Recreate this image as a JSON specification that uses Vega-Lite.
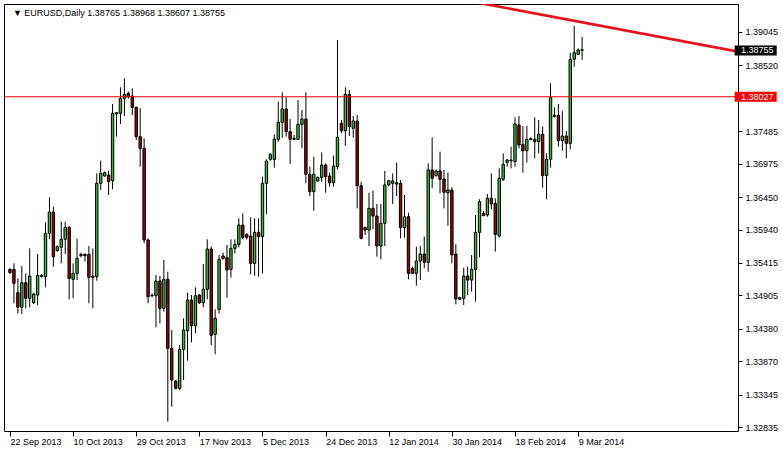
{
"$schema": "https://vega.github.io/schema/vega-lite/v6.json",
"width": 734,
"height": 427,
"autosize": {"type": "none"},
"padding": {"left": 4, "top": 4, "right": 45, "bottom": 20},
"background": "#ffffff",
"config": {
  "view": {"stroke": "#000000", "strokeWidth": 1},
  "font": "Liberation Sans",
  "axis": {"grid": false, "domain": false, "title": null, "labelFont": "Liberation Sans", "labelFontSize": 9, "labelColor": "#000000", "tickColor": "#000000", "labelOverlap": false, "labelFlush": false}
},
"datasets": {
  "candles": [
    {"date":"2013-09-22","open":1.35314,"high":1.35330,"low":1.35241,"close":1.35262},
    {"date":"2013-09-23","open":1.35314,"high":1.35408,"low":1.34780,"close":1.35094},
    {"date":"2013-09-24","open":1.34947,"high":1.35173,"low":1.34622,"close":1.34717},
    {"date":"2013-09-25","open":1.34717,"high":1.35366,"low":1.34612,"close":1.35104},
    {"date":"2013-09-26","open":1.35104,"high":1.35251,"low":1.34701,"close":1.34858},
    {"date":"2013-09-27","open":1.34858,"high":1.35644,"low":1.34717,"close":1.35209},
    {"date":"2013-09-29","open":1.34790,"high":1.34947,"low":1.34769,"close":1.34926},
    {"date":"2013-09-30","open":1.34911,"high":1.35555,"low":1.34753,"close":1.35220},
    {"date":"2013-10-01","open":1.35199,"high":1.35241,"low":1.35188,"close":1.35220},
    {"date":"2013-10-02","open":1.35199,"high":1.36053,"low":1.35031,"close":1.35880},
    {"date":"2013-10-03","open":1.35880,"high":1.36446,"low":1.35786,"close":1.36215},
    {"date":"2013-10-04","open":1.36215,"high":1.36299,"low":1.35356,"close":1.35513},
    {"date":"2013-10-06","open":1.35608,"high":1.35691,"low":1.35592,"close":1.35670},
    {"date":"2013-10-07","open":1.35660,"high":1.36063,"low":1.35408,"close":1.35786},
    {"date":"2013-10-08","open":1.35786,"high":1.36063,"low":1.35555,"close":1.35974},
    {"date":"2013-10-09","open":1.35974,"high":1.35995,"low":1.34843,"close":1.35173},
    {"date":"2013-10-10","open":1.35157,"high":1.35408,"low":1.34858,"close":1.35251},
    {"date":"2013-10-11","open":1.35251,"high":1.35796,"low":1.35146,"close":1.35487},
    {"date":"2013-10-13","open":1.35529,"high":1.35576,"low":1.35503,"close":1.35550},
    {"date":"2013-10-14","open":1.35550,"high":1.35566,"low":1.35435,"close":1.35529},
    {"date":"2013-10-15","open":1.35550,"high":1.35681,"low":1.34780,"close":1.35188},
    {"date":"2013-10-16","open":1.35209,"high":1.35644,"low":1.34701,"close":1.35188},
    {"date":"2013-10-17","open":1.35199,"high":1.36823,"low":1.35136,"close":1.36666},
    {"date":"2013-10-18","open":1.36666,"high":1.37022,"low":1.36561,"close":1.36823},
    {"date":"2013-10-20","open":1.36781,"high":1.36850,"low":1.36771,"close":1.36834},
    {"date":"2013-10-21","open":1.36797,"high":1.36865,"low":1.36483,"close":1.36692},
    {"date":"2013-10-22","open":1.36708,"high":1.37913,"low":1.36572,"close":1.37766},
    {"date":"2013-10-23","open":1.37756,"high":1.37787,"low":1.37400,"close":1.37777},
    {"date":"2013-10-24","open":1.37766,"high":1.38175,"low":1.37599,"close":1.38002},
    {"date":"2013-10-25","open":1.38002,"high":1.38317,"low":1.37724,"close":1.38065},
    {"date":"2013-10-27","open":1.38081,"high":1.38107,"low":1.37997,"close":1.38028},
    {"date":"2013-10-28","open":1.38039,"high":1.38159,"low":1.37740,"close":1.37861},
    {"date":"2013-10-29","open":1.37861,"high":1.37871,"low":1.37347,"close":1.37400},
    {"date":"2013-10-30","open":1.37400,"high":1.37845,"low":1.36928,"close":1.37216},
    {"date":"2013-10-31","open":1.37216,"high":1.37373,"low":1.35723,"close":1.35775},
    {"date":"2013-11-01","open":1.35775,"high":1.35801,"low":1.34780,"close":1.34884},
    {"date":"2013-11-03","open":1.34905,"high":1.34937,"low":1.34874,"close":1.34900},
    {"date":"2013-11-04","open":1.34900,"high":1.35225,"low":1.34402,"close":1.35131},
    {"date":"2013-11-05","open":1.35131,"high":1.35209,"low":1.34465,"close":1.34701},
    {"date":"2013-11-06","open":1.34701,"high":1.35461,"low":1.34649,"close":1.35157},
    {"date":"2013-11-07","open":1.35157,"high":1.35277,"low":1.32919,"close":1.34072},
    {"date":"2013-11-08","open":1.34072,"high":1.34360,"low":1.33155,"close":1.33574},
    {"date":"2013-11-10","open":1.33559,"high":1.33574,"low":1.33428,"close":1.33443},
    {"date":"2013-11-11","open":1.33443,"high":1.34124,"low":1.33417,"close":1.34056},
    {"date":"2013-11-12","open":1.34056,"high":1.34544,"low":1.33574,"close":1.34360},
    {"date":"2013-11-13","open":1.34350,"high":1.34947,"low":1.33878,"close":1.34832},
    {"date":"2013-11-14","open":1.34832,"high":1.34911,"low":1.34166,"close":1.34428},
    {"date":"2013-11-15","open":1.34428,"high":1.35031,"low":1.34308,"close":1.34900},
    {"date":"2013-11-17","open":1.34911,"high":1.34926,"low":1.34769,"close":1.34790},
    {"date":"2013-11-18","open":1.34790,"high":1.35398,"low":1.34717,"close":1.35000},
    {"date":"2013-11-19","open":1.35000,"high":1.35786,"low":1.34843,"close":1.35634},
    {"date":"2013-11-20","open":1.35634,"high":1.35670,"low":1.34124,"close":1.34277},
    {"date":"2013-11-21","open":1.34292,"high":1.34685,"low":1.33978,"close":1.34544},
    {"date":"2013-11-22","open":1.34685,"high":1.35539,"low":1.34622,"close":1.35471},
    {"date":"2013-11-24","open":1.35524,"high":1.35576,"low":1.35471,"close":1.35482},
    {"date":"2013-11-25","open":1.35497,"high":1.35697,"low":1.34869,"close":1.35304},
    {"date":"2013-11-26","open":1.35314,"high":1.35786,"low":1.35183,"close":1.35644},
    {"date":"2013-11-27","open":1.35644,"high":1.35786,"low":1.35566,"close":1.35707},
    {"date":"2013-11-28","open":1.35707,"high":1.36116,"low":1.35660,"close":1.36011},
    {"date":"2013-11-29","open":1.36011,"high":1.36194,"low":1.35786,"close":1.35817},
    {"date":"2013-12-01","open":1.35864,"high":1.35880,"low":1.35786,"close":1.35817},
    {"date":"2013-12-02","open":1.35838,"high":1.36132,"low":1.35236,"close":1.35408},
    {"date":"2013-12-03","open":1.35408,"high":1.36116,"low":1.35215,"close":1.35896},
    {"date":"2013-12-04","open":1.35896,"high":1.36116,"low":1.35199,"close":1.35828},
    {"date":"2013-12-05","open":1.35828,"high":1.36771,"low":1.35251,"close":1.36666},
    {"date":"2013-12-06","open":1.36666,"high":1.37043,"low":1.36179,"close":1.37017},
    {"date":"2013-12-08","open":1.37043,"high":1.37138,"low":1.37022,"close":1.37122},
    {"date":"2013-12-09","open":1.37043,"high":1.37436,"low":1.36912,"close":1.37358},
    {"date":"2013-12-10","open":1.37358,"high":1.37950,"low":1.37321,"close":1.37625},
    {"date":"2013-12-11","open":1.37625,"high":1.38097,"low":1.37384,"close":1.37835},
    {"date":"2013-12-12","open":1.37835,"high":1.38018,"low":1.37400,"close":1.37478},
    {"date":"2013-12-13","open":1.37478,"high":1.37677,"low":1.36970,"close":1.37358},
    {"date":"2013-12-15","open":1.37373,"high":1.37426,"low":1.37347,"close":1.37358},
    {"date":"2013-12-16","open":1.37358,"high":1.37976,"low":1.37347,"close":1.37593},
    {"date":"2013-12-17","open":1.37593,"high":1.37819,"low":1.37216,"close":1.37677},
    {"date":"2013-12-18","open":1.37677,"high":1.38097,"low":1.36666,"close":1.36808},
    {"date":"2013-12-19","open":1.36808,"high":1.36928,"low":1.36467,"close":1.36535},
    {"date":"2013-12-20","open":1.36535,"high":1.37085,"low":1.36236,"close":1.36808},
    {"date":"2013-12-22","open":1.36703,"high":1.36771,"low":1.36692,"close":1.36760},
    {"date":"2013-12-23","open":1.36760,"high":1.37153,"low":1.36692,"close":1.36954},
    {"date":"2013-12-24","open":1.36954,"high":1.36980,"low":1.36519,"close":1.36771},
    {"date":"2013-12-25","open":1.36781,"high":1.36834,"low":1.36614,"close":1.36676},
    {"date":"2013-12-26","open":1.36676,"high":1.37101,"low":1.36614,"close":1.36938},
    {"date":"2013-12-27","open":1.36928,"high":1.38919,"low":1.36886,"close":1.37389},
    {"date":"2013-12-29","open":1.37609,"high":1.37662,"low":1.37452,"close":1.37494},
    {"date":"2013-12-30","open":1.37494,"high":1.38175,"low":1.37258,"close":1.38065},
    {"date":"2013-12-31","open":1.38065,"high":1.38133,"low":1.37410,"close":1.37557},
    {"date":"2014-01-01","open":1.37531,"high":1.37724,"low":1.37384,"close":1.37646},
    {"date":"2014-01-02","open":1.37646,"high":1.37740,"low":1.36273,"close":1.36629},
    {"date":"2014-01-03","open":1.36629,"high":1.36692,"low":1.35786,"close":1.35801},
    {"date":"2014-01-05","open":1.35974,"high":1.35985,"low":1.35854,"close":1.35932},
    {"date":"2014-01-06","open":1.35932,"high":1.36519,"low":1.35681,"close":1.36273},
    {"date":"2014-01-07","open":1.36273,"high":1.36551,"low":1.35943,"close":1.36153},
    {"date":"2014-01-08","open":1.36153,"high":1.36341,"low":1.35513,"close":1.35681},
    {"date":"2014-01-09","open":1.35681,"high":1.36341,"low":1.35471,"close":1.36037},
    {"date":"2014-01-10","open":1.36037,"high":1.36860,"low":1.35681,"close":1.36640},
    {"date":"2014-01-12","open":1.36640,"high":1.36718,"low":1.36624,"close":1.36708},
    {"date":"2014-01-13","open":1.36666,"high":1.36823,"low":1.36341,"close":1.36703},
    {"date":"2014-01-14","open":1.36676,"high":1.36991,"low":1.36467,"close":1.36655},
    {"date":"2014-01-15","open":1.36666,"high":1.36718,"low":1.35801,"close":1.35969},
    {"date":"2014-01-16","open":1.35969,"high":1.36483,"low":1.35812,"close":1.36142},
    {"date":"2014-01-17","open":1.36142,"high":1.36205,"low":1.35157,"close":1.35251},
    {"date":"2014-01-19","open":1.35330,"high":1.35356,"low":1.35241,"close":1.35251},
    {"date":"2014-01-20","open":1.35251,"high":1.35670,"low":1.35057,"close":1.35445},
    {"date":"2014-01-21","open":1.35445,"high":1.35681,"low":1.35146,"close":1.35555},
    {"date":"2014-01-22","open":1.35555,"high":1.35828,"low":1.35330,"close":1.35424},
    {"date":"2014-01-23","open":1.35424,"high":1.36980,"low":1.35277,"close":1.36876},
    {"date":"2014-01-24","open":1.36876,"high":1.37389,"low":1.36588,"close":1.36745},
    {"date":"2014-01-26","open":1.36787,"high":1.36886,"low":1.36771,"close":1.36860},
    {"date":"2014-01-27","open":1.36860,"high":1.37164,"low":1.36509,"close":1.36729},
    {"date":"2014-01-28","open":1.36734,"high":1.36876,"low":1.36273,"close":1.36525},
    {"date":"2014-01-29","open":1.36519,"high":1.36834,"low":1.36001,"close":1.36561},
    {"date":"2014-01-30","open":1.36561,"high":1.36603,"low":1.35408,"close":1.35540},
    {"date":"2014-01-31","open":1.35555,"high":1.35707,"low":1.34764,"close":1.34848},
    {"date":"2014-02-02","open":1.34843,"high":1.34884,"low":1.34832,"close":1.34869},
    {"date":"2014-02-03","open":1.34858,"high":1.35340,"low":1.34753,"close":1.35209},
    {"date":"2014-02-04","open":1.35209,"high":1.35356,"low":1.34911,"close":1.35146},
    {"date":"2014-02-05","open":1.35146,"high":1.35539,"low":1.34963,"close":1.35314},
    {"date":"2014-02-06","open":1.35314,"high":1.36168,"low":1.34806,"close":1.35896},
    {"date":"2014-02-07","open":1.35896,"high":1.36415,"low":1.35503,"close":1.36378},
    {"date":"2014-02-09","open":1.36194,"high":1.36231,"low":1.36152,"close":1.36158},
    {"date":"2014-02-10","open":1.36168,"high":1.36498,"low":1.36142,"close":1.36430},
    {"date":"2014-02-11","open":1.36430,"high":1.36823,"low":1.36257,"close":1.36341},
    {"date":"2014-02-12","open":1.36352,"high":1.36430,"low":1.35592,"close":1.35864},
    {"date":"2014-02-13","open":1.35838,"high":1.36902,"low":1.35817,"close":1.36745},
    {"date":"2014-02-14","open":1.36729,"high":1.37138,"low":1.36703,"close":1.36965},
    {"date":"2014-02-16","open":1.36996,"high":1.37049,"low":1.36928,"close":1.37033},
    {"date":"2014-02-17","open":1.37022,"high":1.37242,"low":1.36902,"close":1.37033},
    {"date":"2014-02-18","open":1.37007,"high":1.37704,"low":1.36928,"close":1.37599},
    {"date":"2014-02-19","open":1.37583,"high":1.37724,"low":1.37216,"close":1.37269},
    {"date":"2014-02-20","open":1.37279,"high":1.37567,"low":1.36834,"close":1.37180},
    {"date":"2014-02-21","open":1.37180,"high":1.37567,"low":1.36991,"close":1.37358},
    {"date":"2014-02-23","open":1.37352,"high":1.37389,"low":1.37347,"close":1.37368},
    {"date":"2014-02-24","open":1.37358,"high":1.37704,"low":1.37059,"close":1.37321},
    {"date":"2014-02-25","open":1.37321,"high":1.37662,"low":1.37138,"close":1.37436},
    {"date":"2014-02-26","open":1.37436,"high":1.37557,"low":1.36598,"close":1.36787},
    {"date":"2014-02-27","open":1.36787,"high":1.37138,"low":1.36415,"close":1.37043},
    {"date":"2014-02-28","open":1.37043,"high":1.38238,"low":1.36912,"close":1.38018},
    {"date":"2014-03-02","open":1.37714,"high":1.37861,"low":1.37704,"close":1.37735},
    {"date":"2014-03-03","open":1.37735,"high":1.37913,"low":1.37242,"close":1.37337},
    {"date":"2014-03-04","open":1.37337,"high":1.37803,"low":1.37180,"close":1.37410},
    {"date":"2014-03-05","open":1.37410,"high":1.37489,"low":1.37059,"close":1.37295},
    {"date":"2014-03-06","open":1.37295,"high":1.38720,"low":1.37201,"close":1.38615},
    {"date":"2014-03-07","open":1.38615,"high":1.39145,"low":1.38500,"close":1.38720},
    {"date":"2014-03-09","open":1.38694,"high":1.38788,"low":1.38683,"close":1.38762},
    {"date":"2014-03-10","open":1.38765,"high":1.38968,"low":1.38607,"close":1.38755}
  ],
  "trend": [{"n": 101, "price": 1.39722}, {"n": 191, "price": 1.38672}],
  "level": [{"price": 1.38027}],
  "bid": [{"price": 1.38755}],
  "header": [{"label": "▼ EURUSD,Daily   1.38765 1.38968 1.38607 1.38755"}]
},
"layer": [
  {
    "data": {"name": "candles"},
    "transform": [{"window": [{"op": "row_number", "as": "n"}]}],
    "layer": [
      {
        "mark": {"type": "rule", "color": "#000000", "strokeWidth": 1},
        "encoding": {
          "x": {"field": "n", "type": "quantitative",
                "scale": {"domain": [0.75, 184.25], "nice": false, "zero": false},
                "axis": {"values": [1, 17, 33, 49, 65, 81, 97, 113, 129, 145],
                         "labelExpr": "['22 Sep 2013','10 Oct 2013','29 Oct 2013','17 Nov 2013','5 Dec 2013','24 Dec 2013','12 Jan 2014','30 Jan 2014','18 Feb 2014','9 Mar 2014'][round((datum.value-1)/16)]",
                         "tickSize": 5, "labelAlign": "left", "labelPadding": 1, "labelOffset": 0, "labelFlush": false, "labelOverlap": false}},
          "y": {"field": "low", "type": "quantitative",
                "scale": {"domain": [1.32773, 1.39485], "nice": false, "zero": false},
                "axis": {"orient": "right", "values": [1.39045, 1.3852, 1.37485, 1.36975, 1.3645, 1.3594, 1.35415, 1.34905, 1.3438, 1.3387, 1.33345, 1.32835],
                         "format": ".5f", "tickSize": 4, "labelPadding": 3, "labelAlign": "left", "labelBaseline": "middle", "labelOverlap": false, "labelFlush": false}},
          "y2": {"field": "high"}
        }
      },
      {
        "mark": {"type": "bar", "orient": "vertical", "width": 2.4, "stroke": "#000000", "strokeWidth": 1},
        "encoding": {
          "x": {"field": "n", "type": "quantitative"},
          "y": {"field": "open", "type": "quantitative",
                "axis": {"orient": "right", "values": [1.39045, 1.3852, 1.37485, 1.36975, 1.3645, 1.3594, 1.35415, 1.34905, 1.3438, 1.3387, 1.33345, 1.32835],
                         "format": ".5f", "tickSize": 4, "labelPadding": 3, "labelAlign": "left", "labelBaseline": "middle", "labelOverlap": false, "labelFlush": false}},
          "y2": {"field": "close"},
          "color": {"condition": {"test": "datum.close >= datum.open", "value": "#3cb43c"}, "value": "#8b0a0a"}
        }
      }
    ]
  },
  {
    "data": {"name": "level"},
    "mark": {"type": "rule", "color": "#e00000", "strokeWidth": 1},
    "encoding": {"y": {"field": "price", "type": "quantitative",
                "axis": {"orient": "right", "values": [1.39045, 1.3852, 1.37485, 1.36975, 1.3645, 1.3594, 1.35415, 1.34905, 1.3438, 1.3387, 1.33345, 1.32835],
                         "format": ".5f", "tickSize": 4, "labelPadding": 3, "labelAlign": "left", "labelBaseline": "middle", "labelOverlap": false, "labelFlush": false}}}
  },
  {
    "data": {"name": "trend"},
    "mark": {"type": "line", "color": "#e8101a", "strokeWidth": 2.6, "clip": true},
    "encoding": {
      "x": {"field": "n", "type": "quantitative"},
      "y": {"field": "price", "type": "quantitative",
                "axis": {"orient": "right", "values": [1.39045, 1.3852, 1.37485, 1.36975, 1.3645, 1.3594, 1.35415, 1.34905, 1.3438, 1.3387, 1.33345, 1.32835],
                         "format": ".5f", "tickSize": 4, "labelPadding": 3, "labelAlign": "left", "labelBaseline": "middle", "labelOverlap": false, "labelFlush": false}}
    }
  },
  {
    "data": {"name": "level"},
    "mark": {"type": "tick", "orient": "horizontal", "size": 42, "thickness": 10, "color": "#ff0000", "opacity": 1},
    "encoding": {"x": {"datum": 190, "type": "quantitative"}, "y": {"field": "price", "type": "quantitative",
                "axis": {"orient": "right", "values": [1.39045, 1.3852, 1.37485, 1.36975, 1.3645, 1.3594, 1.35415, 1.34905, 1.3438, 1.3387, 1.33345, 1.32835],
                         "format": ".5f", "tickSize": 4, "labelPadding": 3, "labelAlign": "left", "labelBaseline": "middle", "labelOverlap": false, "labelFlush": false}}}
  },
  {
    "data": {"name": "bid"},
    "mark": {"type": "tick", "orient": "horizontal", "size": 42, "thickness": 10, "color": "#000000", "opacity": 1},
    "encoding": {"x": {"datum": 190, "type": "quantitative"}, "y": {"field": "price", "type": "quantitative",
                "axis": {"orient": "right", "values": [1.39045, 1.3852, 1.37485, 1.36975, 1.3645, 1.3594, 1.35415, 1.34905, 1.3438, 1.3387, 1.33345, 1.32835],
                         "format": ".5f", "tickSize": 4, "labelPadding": 3, "labelAlign": "left", "labelBaseline": "middle", "labelOverlap": false, "labelFlush": false}}}
  },
  {
    "data": {"name": "level"},
    "mark": {"type": "text", "color": "#ffffff", "fontSize": 9, "align": "center", "baseline": "middle", "font": "Liberation Sans"},
    "encoding": {"x": {"datum": 190.4, "type": "quantitative"}, "y": {"field": "price", "type": "quantitative",
                "axis": {"orient": "right", "values": [1.39045, 1.3852, 1.37485, 1.36975, 1.3645, 1.3594, 1.35415, 1.34905, 1.3438, 1.3387, 1.33345, 1.32835],
                         "format": ".5f", "tickSize": 4, "labelPadding": 3, "labelAlign": "left", "labelBaseline": "middle", "labelOverlap": false, "labelFlush": false}}, "text": {"field": "price", "format": ".5f"}}
  },
  {
    "data": {"name": "bid"},
    "mark": {"type": "text", "color": "#ffffff", "fontSize": 9, "align": "center", "baseline": "middle", "font": "Liberation Sans"},
    "encoding": {"x": {"datum": 190.4, "type": "quantitative"}, "y": {"field": "price", "type": "quantitative",
                "axis": {"orient": "right", "values": [1.39045, 1.3852, 1.37485, 1.36975, 1.3645, 1.3594, 1.35415, 1.34905, 1.3438, 1.3387, 1.33345, 1.32835],
                         "format": ".5f", "tickSize": 4, "labelPadding": 3, "labelAlign": "left", "labelBaseline": "middle", "labelOverlap": false, "labelFlush": false}}, "text": {"field": "price", "format": ".5f"}}
  },
  {
    "data": {"name": "header"},
    "mark": {"type": "text", "color": "#000000", "fontSize": 9, "align": "left", "baseline": "middle", "font": "Liberation Sans"},
    "encoding": {"x": {"datum": 1.75, "type": "quantitative"}, "y": {"datum": 1.39344, "type": "quantitative",
                "axis": {"orient": "right", "values": [1.39045, 1.3852, 1.37485, 1.36975, 1.3645, 1.3594, 1.35415, 1.34905, 1.3438, 1.3387, 1.33345, 1.32835],
                         "format": ".5f", "tickSize": 4, "labelPadding": 3, "labelAlign": "left", "labelBaseline": "middle", "labelOverlap": false, "labelFlush": false}}, "text": {"field": "label"}}
  }
]
}
